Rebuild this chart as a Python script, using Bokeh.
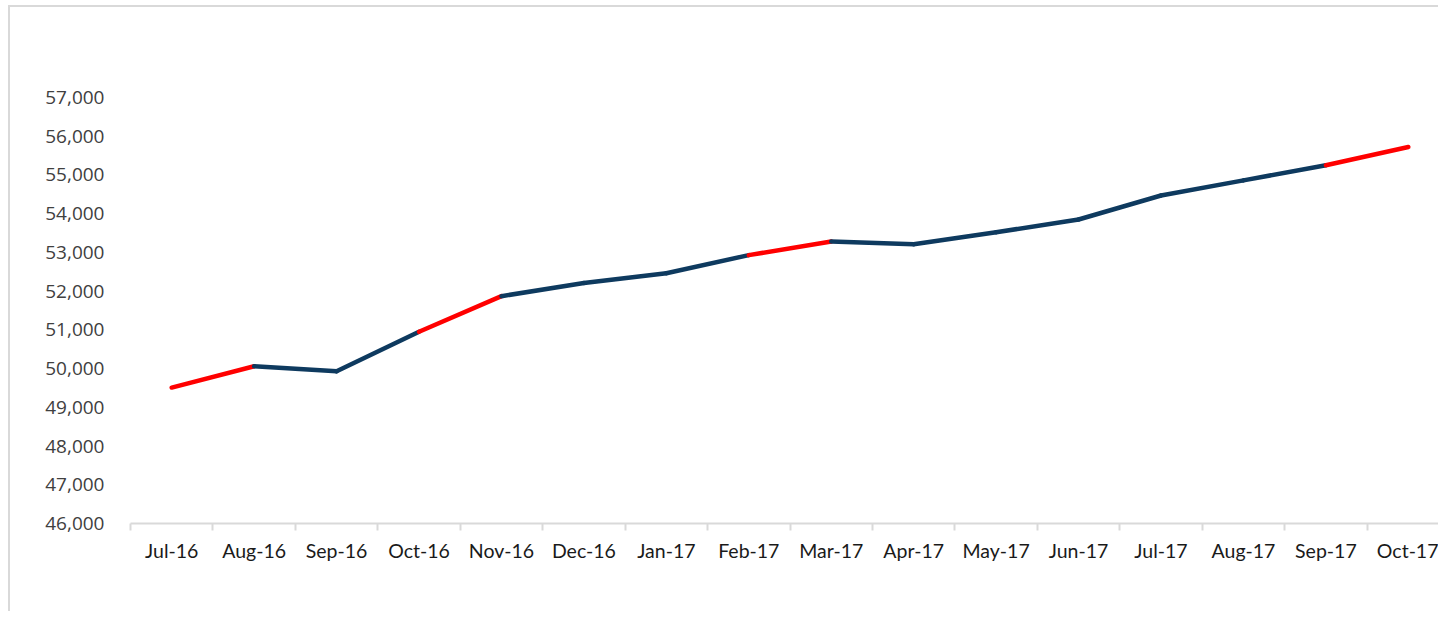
from bokeh.plotting import figure
from bokeh.models import Range1d, FixedTicker, NumeralTickFormatter
from bokeh.embed import file_html
from bokeh.resources import INLINE

months = ["Jul-16", "Aug-16", "Sep-16", "Oct-16", "Nov-16", "Dec-16", "Jan-17", "Feb-17",
          "Mar-17", "Apr-17", "May-17", "Jun-17", "Jul-17", "Aug-17", "Sep-17", "Oct-17"]
values = [49510, 50060, 49930, 50950, 51870, 52210, 52460, 52930,
          53280, 53210, 53520, 53850, 54470, 54860, 55250, 55720]
# colour of the segment that ends at each month (after the first)
seg_colors = ["#FF0000", "#0E3A5F", "#0E3A5F", "#FF0000", "#0E3A5F", "#0E3A5F", "#0E3A5F",
              "#FF0000", "#0E3A5F", "#0E3A5F", "#0E3A5F", "#0E3A5F", "#0E3A5F", "#0E3A5F", "#FF0000"]
y_ticks = [46000, 47000, 48000, 49000, 50000, 51000, 52000, 53000, 54000, 55000, 56000, 57000]

n = len(months)
xs = [i + 0.5 for i in range(n)]

p = figure(width=1430, height=606, output_backend="svg", toolbar_location=None,
           x_range=Range1d(0, 15.89), y_range=Range1d(46000, 57000),
           min_border_left=120, min_border_right=0, min_border_top=90, min_border_bottom=90)
p.styles = {"border-left": "2px solid #D9D9D9", "border-top": "2px solid #D9D9D9",
            "margin-left": "8px", "margin-top": "5px"}
p.outline_line_color = None
p.xgrid.visible = False
p.ygrid.visible = False
p.background_fill_color = "white"
p.border_fill_color = "white"

p.multi_line(xs=[[xs[i], xs[i + 1]] for i in range(n - 1)],
             ys=[[values[i], values[i + 1]] for i in range(n - 1)],
             line_color=seg_colors, line_width=4.5, line_cap="round", line_join="round")

# x axis
xa = p.xaxis[0]
xa.ticker = FixedTicker(ticks=xs, minor_ticks=list(range(n + 1)))
xa.major_label_overrides = {x: m for x, m in zip(xs, months)}
xa.axis_line_color = "#D9D9D9"
xa.axis_line_width = 2
xa.major_tick_out = 0
xa.major_tick_in = 0
xa.minor_tick_out = 7
xa.minor_tick_in = 0
xa.minor_tick_line_color = "#D9D9D9"
xa.minor_tick_line_width = 2
xa.major_label_standoff = 8
xa.major_label_text_font = "Lato"
xa.major_label_text_font_size = "19.5px"
xa.major_label_text_color = "#1A1A1A"

# y axis
ya = p.yaxis[0]
ya.ticker = FixedTicker(ticks=y_ticks)
ya.formatter = NumeralTickFormatter(format="0,0")
ya.axis_line_color = None
ya.major_tick_line_color = None
ya.minor_tick_line_color = None
ya.major_tick_out = 0
ya.major_label_standoff = 26
ya.major_label_text_font = "Open Sans"
ya.major_label_text_font_size = "19px"
ya.major_label_text_color = "#404040"

open("out.html", "w").write(file_html(p, INLINE))
